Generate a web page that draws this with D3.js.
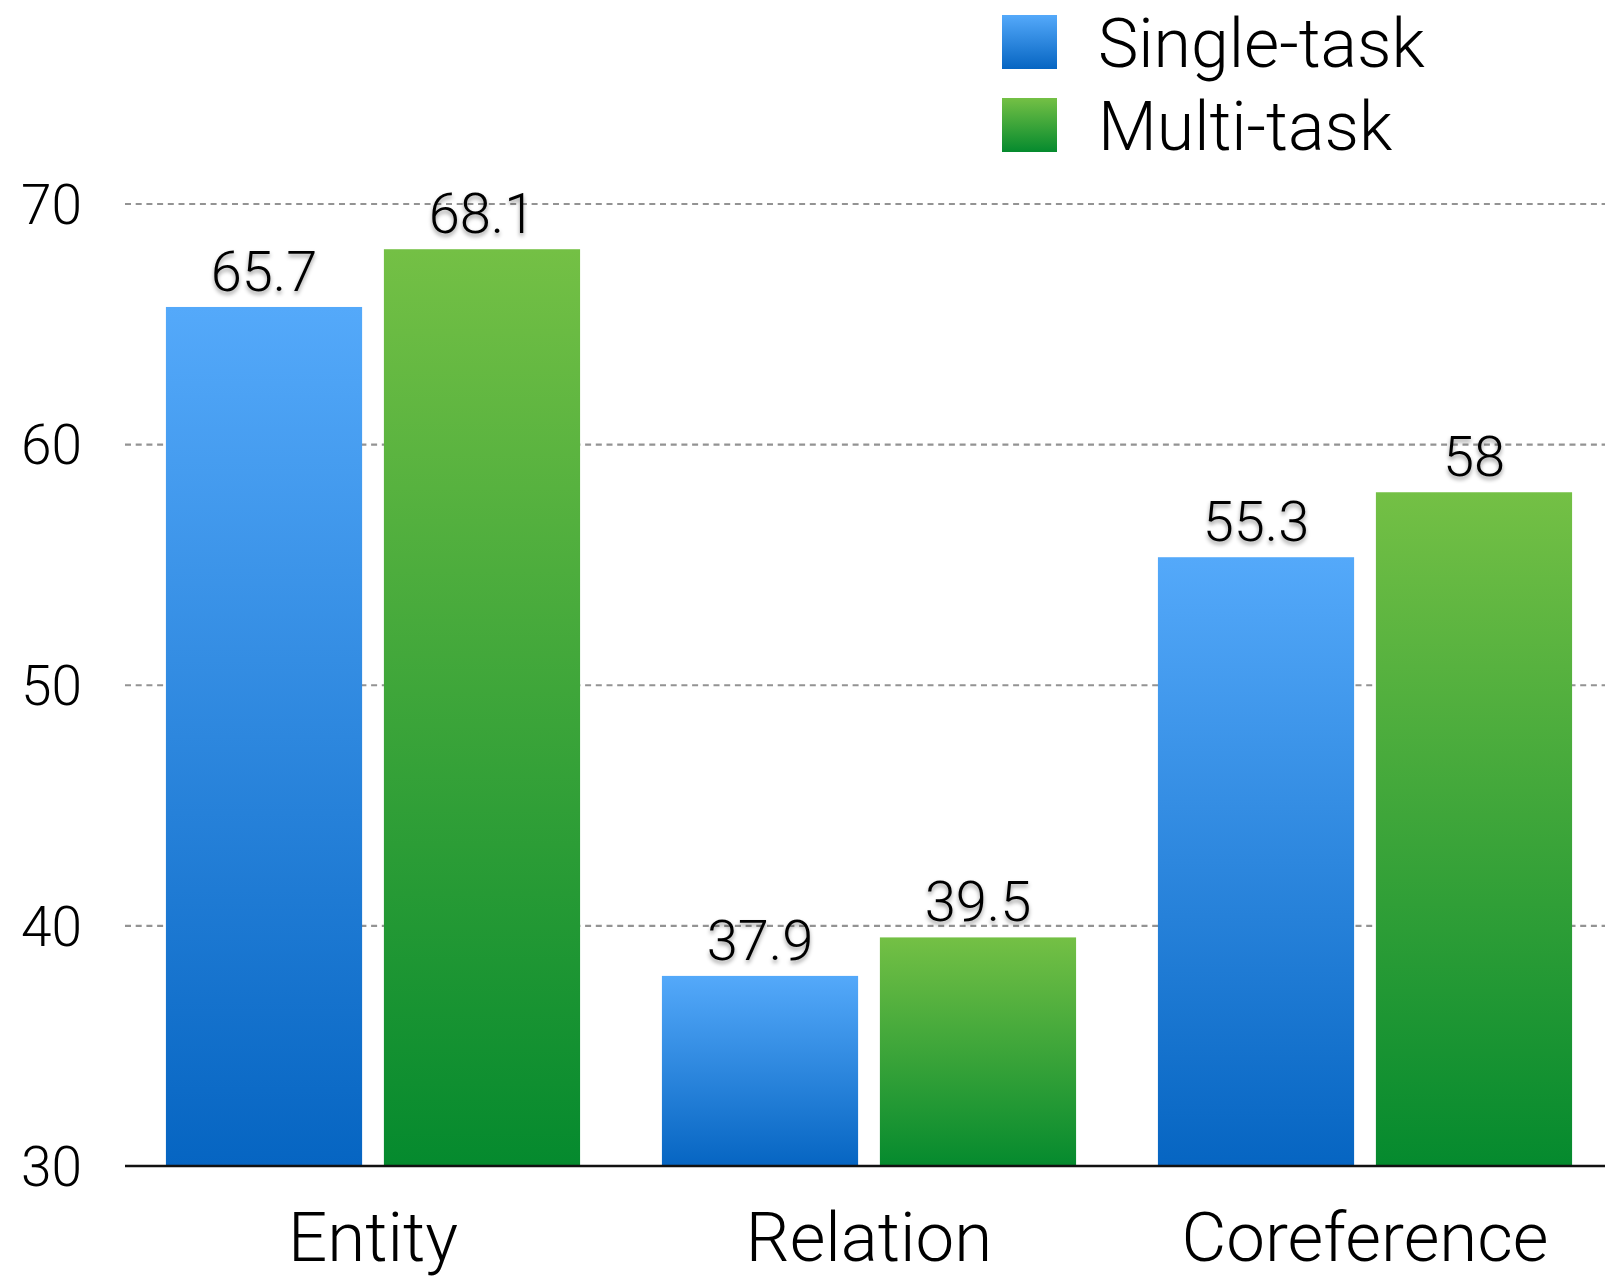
<!DOCTYPE html>
<html>
<head>
<meta charset="utf-8">
<script src="https://cdn.jsdelivr.net/npm/d3@7"></script>
<style>
  html, body { margin: 0; padding: 0; background: #fff; }
  svg { display: block; }
  text { font-family: Roboto, "Liberation Sans", sans-serif; font-weight: 300; fill: #000; }
</style>
</head>
<body>
<svg id="chart" width="1605" height="1279"></svg>
<script>
// Scores per task, single-task vs multi-task training
const categories = ["Entity", "Relation", "Coreference"];
const seriesNames = ["Single-task", "Multi-task"];
const singleTask = [65.7, 37.9, 55.3];
const multiTask = [68.1, 39.5, 58];
const yTicks = [30, 40, 50, 60, 70];

const svg = d3.select("#chart");
const W = 1605, H = 1279;
const plotLeft = 125, plotRight = 1613;
const yBottom = 1166, yTop = 203.5;

const y = d3.scaleLinear().domain([30, 70]).range([yBottom, yTop]);
const x0 = d3.scaleBand().domain(categories).range([plotLeft, plotRight])
  .paddingInner(0.165).paddingOuter(0.0825);
const x1 = d3.scaleBand().domain(seriesNames).range([0, x0.bandwidth()])
  .paddingInner(0.1).paddingOuter(0);

// Gradients for the two series
const defs = svg.append("defs");
const gradStops = {
  "Single-task": ["#54a9fa", "#0665c2"],
  "Multi-task": ["#74c045", "#058a2e"]
};
const gradId = name => "grad-" + name.replace(/[^a-z]/gi, "");
seriesNames.forEach(name => {
  const g = defs.append("linearGradient").attr("id", gradId(name))
    .attr("x1", 0).attr("y1", 0).attr("x2", 0).attr("y2", 1);
  g.append("stop").attr("offset", "0%").attr("stop-color", gradStops[name][0]);
  g.append("stop").attr("offset", "100%").attr("stop-color", gradStops[name][1]);
});
const shadow = defs.append("filter").attr("id", "labelShadow")
  .attr("x", "-20%").attr("y", "-30%").attr("width", "140%").attr("height", "170%");
shadow.append("feDropShadow").attr("dx", 0).attr("dy", 3).attr("stdDeviation", 2.2)
  .attr("flood-color", "#000").attr("flood-opacity", 0.4);

// Dashed horizontal gridlines
const grid = svg.append("g").attr("transform", `translate(${plotLeft},0)`)
  .call(d3.axisLeft(y).tickValues(yTicks.filter(t => t > 30))
    .tickSize(-(W - plotLeft)).tickFormat(""));
grid.select(".domain").remove();
grid.selectAll(".tick line").attr("stroke", "#939393").attr("stroke-width", 2.2)
  .attr("stroke-dasharray", "6,4.7");

// Y tick labels
const yAxis = svg.append("g").attr("transform", `translate(${plotLeft},0)`)
  .call(d3.axisLeft(y).tickValues(yTicks).tickSize(0).tickPadding(43));
yAxis.select(".domain").remove();
yAxis.selectAll("text").style("font-size", "55px").attr("dy", "0.36em");

// Bars
const data = categories.map((c, i) => ({
  category: c,
  values: [
    { series: "Single-task", value: singleTask[i] },
    { series: "Multi-task", value: multiTask[i] }
  ]
}));

const groups = svg.append("g").selectAll("g").data(data).join("g")
  .attr("transform", d => `translate(${x0(d.category)},0)`);

groups.selectAll("rect").data(d => d.values).join("rect")
  .attr("x", d => x1(d.series))
  .attr("y", d => y(d.value))
  .attr("width", x1.bandwidth())
  .attr("height", d => y(30) - y(d.value))
  .attr("fill", d => `url(#${gradId(d.series)})`);

groups.selectAll("text.value").data(d => d.values).join("text")
  .attr("class", "value")
  .attr("x", d => x1(d.series) + x1.bandwidth() / 2)
  .attr("y", d => y(d.value) - 16)
  .attr("text-anchor", "middle")
  .attr("filter", "url(#labelShadow)")
  .style("font-size", "56px")
  .text(d => d3.format("~g")(d.value));

// X axis baseline and category labels
svg.append("line").attr("x1", plotLeft).attr("x2", W)
  .attr("y1", y(30)).attr("y2", y(30))
  .attr("stroke", "#111").attr("stroke-width", 2.5);

const xAxis = svg.append("g").attr("transform", `translate(0,${y(30)})`)
  .call(d3.axisBottom(x0).tickSize(0));
xAxis.select(".domain").remove();
xAxis.selectAll("text").attr("y", 95).attr("dy", 0).style("font-size", "69px");

// Legend
const legend = svg.append("g").selectAll("g").data(seriesNames).join("g")
  .attr("transform", (d, i) => `translate(1002,${15 + i * 83})`);
legend.append("rect").attr("width", 55).attr("height", 54)
  .attr("fill", d => `url(#${gradId(d)})`);
legend.append("text").attr("x", 96).attr("y", 52)
  .style("font-size", "68px").text(d => d);

svg.selectAll("text").style("font-family", 'Roboto, "Liberation Sans", sans-serif')
  .style("font-weight", 300).attr("fill", "#000");
</script>
</body>
</html>
